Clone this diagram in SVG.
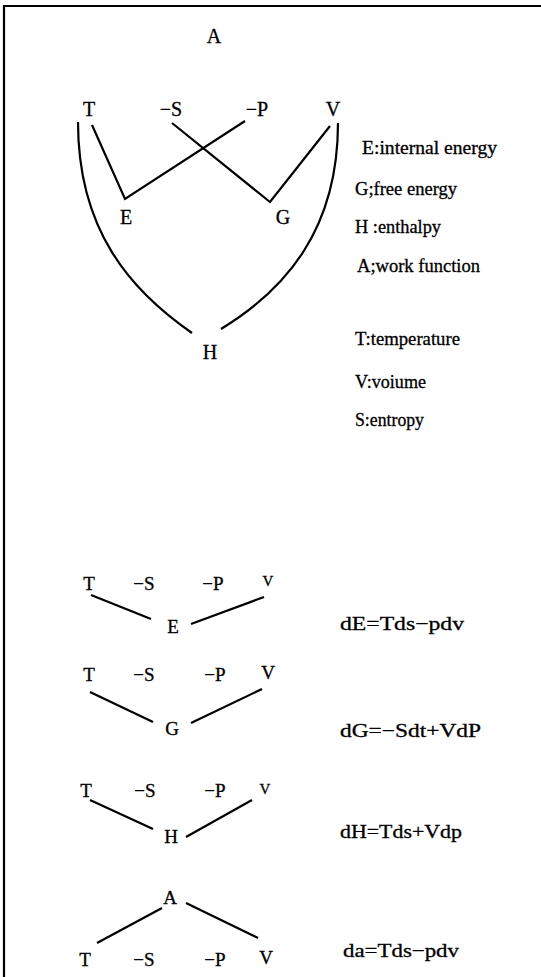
<svg xmlns="http://www.w3.org/2000/svg" width="541" height="977" viewBox="0 0 541 977">
<style>
text{font-family:"Liberation Serif","Times New Roman",serif;fill:#000;stroke:#000;stroke-width:0.3}
.v{font-size:20px;text-anchor:middle}
.s{font-size:19px;text-anchor:middle}
.sm{font-size:15px;text-anchor:middle}
.lg{font-size:18px}
.eq{font-size:19px}
.ln{stroke:#000;stroke-width:2.2;fill:none;stroke-linecap:butt}
</style>
<rect width="541" height="977" fill="#fff"/>
<g id="frame" class="ln">
<line x1="3" y1="6" x2="541" y2="6"/>
<line x1="4" y1="5" x2="4" y2="977"/>
</g>
<g id="connectors" class="ln">
<polyline points="92,125 125,199 245,121"/>
<polyline points="172,123 270,202 330,126"/>
<path d="M78,122 C78,230 130,290 192,333"/>
<path d="M338,123 C338,230 285,290 221,329"/>
<line x1="91" y1="595" x2="151" y2="619"/>
<line x1="191" y1="624" x2="264" y2="597"/>
<line x1="90" y1="692" x2="153" y2="722"/>
<line x1="191" y1="723" x2="262" y2="689"/>
<line x1="90" y1="800" x2="153" y2="829"/>
<line x1="186" y1="837" x2="252" y2="800"/>
<line x1="162" y1="908" x2="97" y2="943"/>
<line x1="186" y1="903" x2="258" y2="938"/>
</g>
<g id="node-A"><text class="v" x="214" y="43">A</text></g>
<g id="node-T"><text class="v" x="89" y="116">T</text></g>
<g id="node-S"><text class="v" x="171" y="116">−S</text></g>
<g id="node-P"><text class="v" x="257" y="116">−P</text></g>
<g id="node-V"><text class="v" x="333" y="116">V</text></g>
<g id="node-E"><text class="v" x="126" y="224">E</text></g>
<g id="node-G"><text class="v" x="283" y="224">G</text></g>
<g id="node-H"><text class="v" x="210" y="359">H</text></g>
<g id="legend">
<text class="lg" x="362" y="154" textLength="135" lengthAdjust="spacingAndGlyphs">E:internal  energy</text>
<text class="lg" x="355" y="195" textLength="102" lengthAdjust="spacingAndGlyphs">G;free energy</text>
<text class="lg" x="355" y="233" textLength="86" lengthAdjust="spacingAndGlyphs">H :enthalpy</text>
<text class="lg" x="357" y="272" textLength="123" lengthAdjust="spacingAndGlyphs">A;work function</text>
<text class="lg" x="355" y="345" textLength="105" lengthAdjust="spacingAndGlyphs">T:temperature</text>
<text class="lg" x="355" y="388" textLength="71" lengthAdjust="spacingAndGlyphs">V:voiume</text>
<text class="lg" x="355" y="426" textLength="69" lengthAdjust="spacingAndGlyphs">S:entropy</text>
</g>
<g id="group-dE">
<text class="s" x="89" y="590">T</text>
<text class="s" x="144" y="590">−S</text>
<text class="s" x="213" y="590">−P</text>
<text class="sm" x="268" y="586">V</text>
<text class="s" x="173" y="633">E</text>
<text class="eq" x="340" y="630" textLength="124" lengthAdjust="spacingAndGlyphs">dE=Tds−pdv</text>
</g>
<g id="group-dG">
<text class="s" x="89" y="681">T</text>
<text class="s" x="144" y="681">−S</text>
<text class="s" x="215" y="681">−P</text>
<text class="s" x="268" y="679">V</text>
<text class="s" x="172" y="735">G</text>
<text class="eq" x="340" y="737" textLength="141" lengthAdjust="spacingAndGlyphs">dG=−Sdt+VdP</text>
</g>
<g id="group-dH">
<text class="s" x="86" y="797">T</text>
<text class="s" x="145" y="797">−S</text>
<text class="s" x="215" y="797">−P</text>
<text class="sm" x="265" y="794">V</text>
<text class="s" x="171" y="843">H</text>
<text class="eq" x="340" y="838" textLength="122" lengthAdjust="spacingAndGlyphs">dH=Tds+Vdp</text>
</g>
<g id="group-da">
<text class="s" x="170" y="904">A</text>
<text class="s" x="85" y="966">T</text>
<text class="s" x="144" y="966">−S</text>
<text class="s" x="215" y="966">−P</text>
<text class="s" x="266" y="964">V</text>
<text class="eq" x="343" y="957" textLength="116" lengthAdjust="spacingAndGlyphs">da=Tds−pdv</text>
</g>
</svg>
